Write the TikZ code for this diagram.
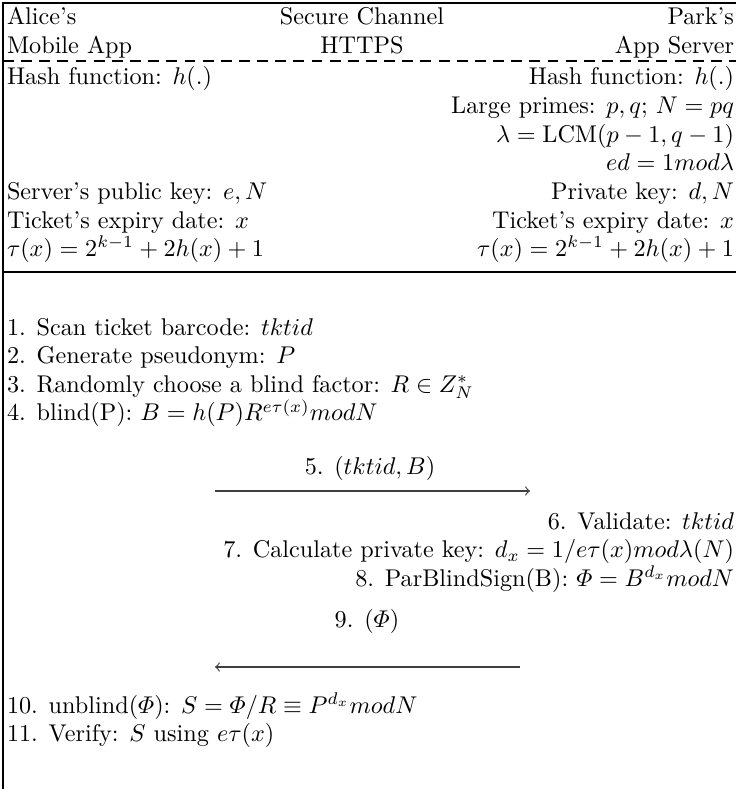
\documentclass[tikz,border=0pt]{standalone}
\usepackage{amsmath,amssymb}
\usepackage{tikz}
\usetikzlibrary{positioning}

\begin{document}
\begin{tikzpicture}[
    x=0.4132pt, y=-0.4132pt,
    every node/.style={inner sep=0pt, outer sep=0pt},
    lcol/.style={anchor=base west},
    rcol/.style={anchor=base east},
    ccol/.style={anchor=base},
    rule/.style={line width=0.8pt},
    dashrule/.style={line width=0.8pt, dash pattern=on 4.5pt off 3pt},
    msg/.style={->, draw=black!75, line width=0.5pt}
  ]
    \useasboundingbox (0,0) rectangle (736,789);
    % frame
    \coordinate (frameTL) at (3,3);
    \coordinate (frameTR) at (736,3);
    \coordinate (frameBL) at (3,789);
    \coordinate (dashL) at (3,61);
    \coordinate (dashR) at (736,61);
    \coordinate (ruleL) at (3,272);
    \coordinate (ruleR) at (736,272);
    \draw[rule] (frameTR) -- (frameTL) -- (frameBL);
    \draw[dashrule] (dashL) -- (dashR);
    \draw[rule] (ruleL) -- (ruleR);
    % header
    \node[lcol] (alice1) at (7,25) {Alice's};
    \node[lcol] (alice2) at (7,53.6) {Mobile App};
    \node[ccol] (chan1) at (362,25) {Secure Channel};
    \node[ccol] (chan2) at (362,53.6) {HTTPS};
    \node[rcol] (park1) at (734,25) {Park's};
    \node[rcol] (park2) at (734,53.6) {App Server};
    % setup
    \node[lcol] (aHash) at (7,85) {Hash function: $h(.)$};
    \node[rcol] (sHash) at (734,85) {Hash function: $h(.)$};
    \node[rcol] (sPrimes) at (734,113.6) {Large primes: $p,q$; $N=pq$};
    \node[rcol] (sLambda) at (734,142.2) {$\lambda = \mathrm{LCM}(p-1,q-1)$};
    \node[rcol] (sEd) at (734,170.8) {$ed = 1 mod \lambda$};
    \node[lcol] (aPub) at (7,199.4) {Server's public key: $e,N$};
    \node[rcol] (sPriv) at (734,199.4) {Private key: $d,N$};
    \node[lcol] (aExp) at (7,228) {Ticket's expiry date: $x$};
    \node[rcol] (sExp) at (734,228) {Ticket's expiry date: $x$};
    \node[lcol] (aTau) at (7,256.6) {$\tau(x) = 2^{k-1} + 2h(x) + 1$};
    \node[rcol] (sTau) at (734,256.6) {$\tau(x) = 2^{k-1} + 2h(x) + 1$};
    % protocol
    \node[lcol] (step1) at (7,335) {1. Scan ticket barcode: $tktid$};
    \node[lcol] (step2) at (7,363.6) {2. Generate pseudonym: $P$};
    \node[lcol] (step3) at (7,392.2) {3. Randomly choose a blind factor: $R \in Z_N^*$};
    \node[lcol] (step4) at (7,420.8) {4. blind(P): $B = h(P)R^{e\tau(x)} mod N$};
    \node[ccol] (lbl5) at (370,474) {5. $(tktid,B)$};
    \coordinate (m5from) at (215,491);
    \coordinate (m5to) at (530,491);
    \draw[msg] (m5from) -- (m5to);
    \node[rcol] (step6) at (734,529) {6. Validate: $tktid$};
    \node[rcol] (step7) at (734,557.6) {7. Calculate private key: $d_x = 1/e\tau(x) mod \lambda(N)$};
    \node[rcol] (step8) at (734,586.2) {8. ParBlindSign(B): $\varPhi = B^{d_x} mod N$};
    \node[ccol] (lbl9) at (367,627) {9. $(\varPhi)$};
    \coordinate (m9from) at (520,667);
    \coordinate (m9to) at (215,667);
    \draw[msg] (m9from) -- (m9to);
    \node[lcol] (step10) at (7,713) {10. unblind($\varPhi$): $S = \varPhi/R \equiv P^{d_x} mod N$};
    \node[lcol] (step11) at (7,741.6) {11. Verify: $S$ using $e\tau(x)$};
  \end{tikzpicture}
\end{document}
